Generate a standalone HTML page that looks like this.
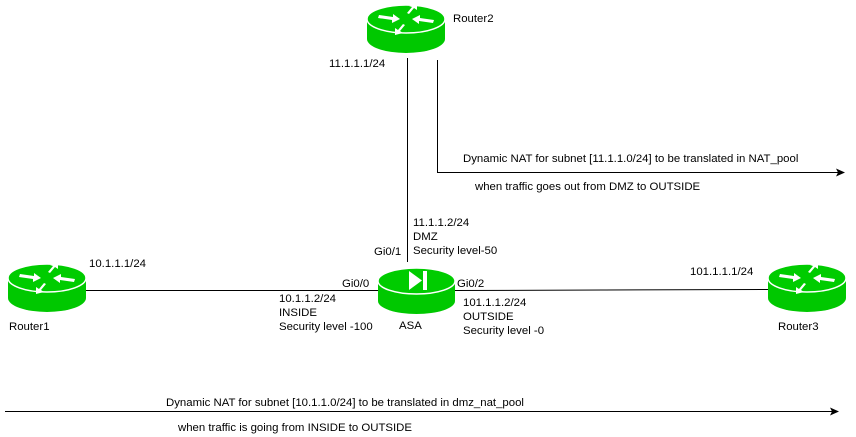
<!DOCTYPE html>
<html><head><meta charset="utf-8"><style>
html,body{margin:0;padding:0;background:#fff;}
svg{display:block;}
text{font-family:"Liberation Sans",Arial,sans-serif;font-size:11.4px;fill:#000;}
</style></head><body>
<svg width="856" height="437" viewBox="0 0 856 437" xmlns="http://www.w3.org/2000/svg">
<defs>
<g id="router">
  <path d="M0 14 L0 34 A39 14 0 0 0 78 34 L78 14 Z" fill="#00c800"/>
  <ellipse cx="39" cy="14" rx="39" ry="14" fill="#00cc00" stroke="#fff" stroke-width="1.5"/>
  <g fill="#fff">
    <path d="M12 10 L26 12 L26 9 L33 14 L25 18 L25 15 L11 13 Z"/>
    <path d="M66 18 L52 16 L52 19 L45 14 L53 10 L53 13 L67 15 Z"/>
    <path d="M36 19 L31 25 L28 23 L28 30 L36 28 L33 26 L38 20 Z"/>
    <path d="M42 9 L47 3 L50 5 L50 -1 L42 1 L45 2 L40 8 Z"/>
  </g>
</g>
</defs>
<g stroke="#000" stroke-width="1" fill="none">
  <line x1="407.5" y1="58" x2="407.5" y2="262"/>
  <polyline points="437.5,60 437.5,172.5 838,172.5"/>
  <line x1="86" y1="290.5" x2="378" y2="290.5"/>
  <line x1="455" y1="290.5" x2="768" y2="289.5"/>
  <line x1="5" y1="411.5" x2="832" y2="411.5"/>
</g>
<path d="M845 172.5 L836 168.5 L838 172.5 L836 176.5 Z" fill="#000"/>
<path d="M839 411.5 L830 407.5 L832 411.5 L830 415.5 Z" fill="#000"/>

<use href="#router" x="367" y="5"/>
<use href="#router" x="8" y="264"/>
<use href="#router" x="768" y="264"/>

<g transform="translate(378,268)">
  <path d="M0 13 L0 33 A38.5 13 0 0 0 77 33 L77 13 Z" fill="#00c800"/>
  <ellipse cx="38.5" cy="13" rx="38.5" ry="13" fill="#00cc00" stroke="#fff" stroke-width="1.5"/>
  <path d="M31 3 L31 22 L44 12.5 Z" fill="#fff"/>
  <rect x="45" y="3" width="4" height="19" fill="#fff"/>
</g>

<text x="453" y="22">Router2</text>
<text x="329" y="67">11.1.1.1/24</text>
<text x="463" y="162">Dynamic NAT for subnet [11.1.1.0/24] to be translated in NAT_pool</text>
<text x="475" y="190">when traffic goes out from DMZ to OUTSIDE</text>
<text x="413" y="226">11.1.1.2/24</text>
<text x="413" y="240">DMZ</text>
<text x="413" y="254">Security level-50</text>
<text x="374" y="255">Gi0/1</text>
<text x="89" y="267">10.1.1.1/24</text>
<text x="342" y="287">Gi0/0</text>
<text x="457" y="287">Gi0/2</text>
<text x="690" y="275">101.1.1.1/24</text>
<text x="279" y="302">10.1.1.2/24</text>
<text x="279" y="316">INSIDE</text>
<text x="279" y="330">Security level -100</text>
<text x="463" y="306">101.1.1.2/24</text>
<text x="463" y="320">OUTSIDE</text>
<text x="463" y="334">Security level -0</text>
<text x="399" y="329">ASA</text>
<text x="9" y="330">Router1</text>
<text x="778" y="330">Router3</text>
<text x="166" y="406">Dynamic NAT for subnet [10.1.1.0/24] to be translated in dmz_nat_pool</text>
<text x="178" y="431">when traffic is going from INSIDE to OUTSIDE</text>
</svg>
</body></html>
